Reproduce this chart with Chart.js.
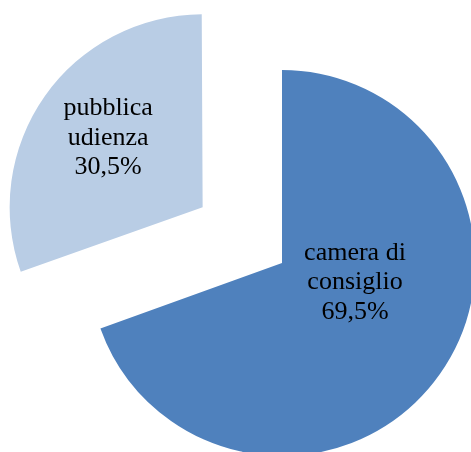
<!DOCTYPE html>
<html>
<head>
<meta charset="utf-8">
<script src="https://cdn.jsdelivr.net/npm/chart.js@4"></script>
<style>
  html, body { margin: 0; padding: 0; background: #fff; }
  #wrap { width: 471px; height: 452px; }
</style>
</head>
<body>
<div id="wrap"><canvas id="pie" width="471" height="452"></canvas></div>
<script>
const labels = ['camera di consiglio', 'pubblica udienza'];
const shares = [69.5, 30.5];
const sliceColors = ['#4F81BD', '#B9CDE5'];
// label lines as they are wrapped in the picture
const labelLines = [
  ['camera di', 'consiglio', '69,5%'],
  ['pubblica', 'udienza', '30,5%']
];

// the big slice stays at the chart centre, the small one is pulled out
const explode = [0, 97];   // px
const RADIUS = 193;

// text placement relative to the (moved) slice centre: [dx, first baseline dy]
const labelAnchor = [[73, -3], [-94.5, -92]];
const LINE_H = 29.3;

// chart.js v4 grows the radius of an offset arc, undo that so both slices keep the same size
const keepRadius = {
  id: 'keepRadius',
  beforeDatasetsDraw(chart) {
    const meta = chart.getDatasetMeta(0);
    meta.data.forEach((arc, i) => {
      const circ = arc.endAngle - arc.startAngle;
      const fix = 1 - Math.sin(Math.min(Math.PI, circ));
      arc.outerRadius = RADIUS - explode[i] * fix;
    });
  }
};

const sliceText = {
  id: 'sliceText',
  afterDatasetsDraw(chart) {
    const { ctx } = chart;
    const meta = chart.getDatasetMeta(0);
    ctx.save();
    ctx.font = '26px "Liberation Serif", "Times New Roman", serif';
    ctx.fillStyle = '#000';
    ctx.textAlign = 'center';
    ctx.textBaseline = 'alphabetic';
    meta.data.forEach((arc, i) => {
      const mid = (arc.startAngle + arc.endAngle) / 2;
      const cx = arc.x + Math.cos(mid) * explode[i];
      const cy = arc.y + Math.sin(mid) * explode[i];
      const [dx, dy] = labelAnchor[i];
      labelLines[i].forEach((line, k) => {
        ctx.fillText(line, cx + dx, cy + dy + k * LINE_H);
      });
    });
    ctx.restore();
  }
};

new Chart(document.getElementById('pie'), {
  type: 'pie',
  data: {
    labels,
    datasets: [{
      data: shares,
      backgroundColor: sliceColors,
      borderWidth: 0,
      offset: explode.map(e => e * 4),
      clip: false
    }]
  },
  options: {
    responsive: false,
    animation: false,
    radius: RADIUS,
    layout: { padding: { left: 93, top: 74, right: 0, bottom: 0 } },
    plugins: {
      legend: { display: false },
      tooltip: { enabled: false }
    },
    events: []
  },
  plugins: [keepRadius, sliceText]
});
</script>
</body>
</html>
